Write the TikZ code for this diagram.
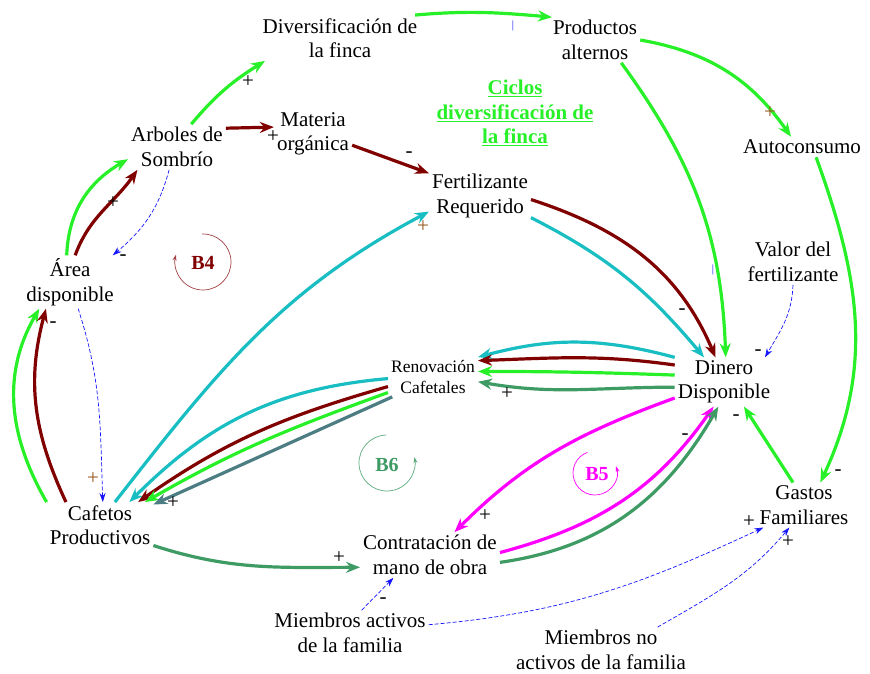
\documentclass[tikz,border=0pt]{standalone}
\usepackage{fontspec}
\setmainfont{Liberation Serif}
\usepackage{xcolor}
\usepackage{tikz}
\usetikzlibrary{arrows.meta}

\definecolor{lgreen}{RGB}{40,240,40}
\definecolor{dred}{RGB}{128,0,0}
\definecolor{cyn}{RGB}{25,190,195}
\definecolor{sgreen}{RGB}{62,155,100}
\definecolor{slate}{RGB}{75,125,130}
\definecolor{mag}{RGB}{255,0,255}
\definecolor{lnk}{RGB}{20,20,255}
\definecolor{brn}{RGB}{150,90,30}

\begin{document}
\begin{tikzpicture}[x=1pt,y=1pt,
    var/.style={align=center,inner sep=3pt,font=\fontsize{21}{24.5}\selectfont},
    flow/.style={line width=3.2pt,-{Stealth[length=14pt,width=11pt]}},
    info/.style={lnk,line width=0.7pt,dash pattern=on 4pt off 2pt,-{Stealth[length=9pt,width=6pt]}},
    pol/.style={font=\fontsize{21}{21}\selectfont,inner sep=0pt},
    loopname/.style={font=\bfseries\fontsize{20}{20}\selectfont},
    loopmark/.style={line width=0.7pt,-{Stealth[length=6pt,width=4pt]}}]
    \useasboundingbox (0,0) rectangle (870,-674);

    % Variables
    \node[var] (div) at (340,-38) {Diversificación de\\la finca};
    \node[var] (prod) at (595,-40) {Productos\\alternos};
    \node[var, font=\bfseries\fontsize{21}{24.5}\selectfont, text=lgreen] (ciclos) at (515,-113)
        {\underline{Ciclos}\\\underline{diversificación de}\\\underline{la finca}};
    \node[var] (arb) at (177,-147) {Arboles de\\Sombrío};
    \node[var] (mat) at (313,-134) {Materia\\orgánica};
    \node[var] (fert) at (480,-196) {Fertilizante\\Requerido};
    \node[var] (auto) at (802,-147) {Autoconsumo};
    \node[var] (area) at (70,-282) {Área\\disponible};
    \node[var] (valor) at (793,-262) {Valor del\\fertilizante};
    \node[var, font=\fontsize{17.5}{21}\selectfont] (ren) at (433,-377) {Renovación\\Cafetales};
    \node[var] (din) at (724,-382) {Dinero\\Disponible};
    \node[var] (caf) at (100,-525) {Cafetos\\Productivos};
    \node[var] (con) at (430,-555) {Contratación de\\mano de obra};
    \node[var] (gas) at (804,-505) {Gastos\\Familiares};
    \node[var] (mact) at (350,-633) {Miembros activos\\de la familia};
    \node[var] (mno) at (601,-650) {Miembros no\\activos de la familia};

    % Diversification loop (green)
    \draw[flow,lgreen] (arb.58) to[out=50,in=212] (div.197);
    \draw[flow,lgreen] (div.17) to[out=5,in=175] (prod.152);
    \draw[flow,lgreen] (prod.east) to[out=-10,in=125] (auto.137);
    \draw[flow,lgreen] (prod.-41) to[out=-54,in=92] (din.86);
    \draw[flow,lgreen] (auto.-36) to[out=-70,in=65] (gas.54);
    \draw[flow,lgreen] (gas.116) -- (din.-51);
    \draw[flow,lgreen] (area.97) to[out=88,in=210] (arb.194);
    \draw[flow,lgreen] (caf.north west) to[out=120,in=-120] (area.221);

    % B4 (dark red)
    \draw[flow,dred] (arb.21) -- (mat.170);
    \draw[flow,dred] (mat.-16) -- (fert.156);
    \draw[flow,dred] (fert.-4) to[out=-18,in=113] (din.109);
    \draw[flow,dred] (area.79) to[out=70,in=235] (arb.210);
    \draw[flow,dred] (caf.146) to[out=115,in=-105] (area.228);

    % Fertilizer (cyan)
    \draw[flow,cyn] (fert.-23) to[out=-27,in=130] (din.129);
    \draw[flow,cyn] (caf.57) to[out=52,in=208] (fert.197);

    % Renovation to productive coffee
    \draw[flow,cyn] (ren.182) to[out=185,in=45] (caf.38);
    \draw[flow,dred] (ren.192) to[out=196,in=35] (caf.31);
    \draw[flow,lgreen] (ren.199) to[out=200,in=30] (caf.27);
    \draw[flow,slate] (ren.206) -- (caf.21);

    % Money to renovation
    \draw[flow,cyn] (din.north west) to[out=165,in=15] (ren.north east);
    \draw[flow,dred] (din.161) to[out=172,in=2] (ren.20);
    \draw[flow,lgreen] (din.172) to[out=178,in=0] (ren.7);
    \draw[flow,sgreen] (din.186) to[out=180,in=-10] (ren.-6);

    % B5 (magenta) and labour
    \draw[flow,mag] (din.198) to[out=200,in=45] (con.43);
    \draw[flow,mag] (con.2) to[out=15,in=235] (din.247);
    \draw[flow,sgreen] (con.-6) to[out=8,in=240] (din.257);
    \draw[flow,sgreen] (caf.-21) to[out=-18,in=180] (con.190);

    % Information links (blue)
    \draw[info] (valor.south) to[out=-92,in=60] (din.31);
    \draw[info] (arb.251) to[out=-105,in=40] (area.32);
    \draw[info] (area.-73) to[out=-72,in=92] (caf.83);
    \draw[info] (mact.63) -- (con.212);
    \draw[info] (mact.6) to[out=5,in=205] (gas.209);
    \draw[info] (mno.22) to[out=30,in=230] (gas.237);

    % Polarity signs
    \foreach \x/\y/\s/\c [count=\i] in {248/82/+/black, 770/113/+/brn, 838/473/-/black,
        736/418/-/black, 758/353/-/black, 682/312/-/black, 273/137/+/black,
        409/155/-/black, 113/203/+/black, 123/258/-/black, 53/325/-/black,
        93/479/+/brn, 423/227/+/brn, 173/503/+/black, 507/394/+/black,
        485/516/+/black, 685/437/-/black, 339/558/+/black, 383/601/-/black,
        749/522/+/black, 788/542/+/black}
        \node[pol, text=\c] (s\i) at (\x,-\y) {\s};
    \node[pol, text=lnk, font=\fontsize{11}{11}\selectfont] (t1) at (513,-26) {|};
    \node[pol, text=lnk, font=\fontsize{11}{11}\selectfont] (t2) at (713,-270) {|};

    % Loop markers
    \draw[loopmark,dred!75] (203,-262) ++(92:28) arc[start angle=92, end angle=-195, radius=28];
    \node[loopname, text=dred] (b4) at (203,-263) {B4};
    \draw[loopmark,sgreen!85] (387,-463) ++(92:28) arc[start angle=92, end angle=372, radius=28];
    \node[loopname, text=sgreen] (b6) at (387,-465) {B6};
    \draw[loopmark,mag] (595,-473) ++(110:22) arc[start angle=110, end angle=378, radius=22];
    \node[loopname, text=mag] (b5) at (597,-474) {B5};
\end{tikzpicture}
\end{document}
